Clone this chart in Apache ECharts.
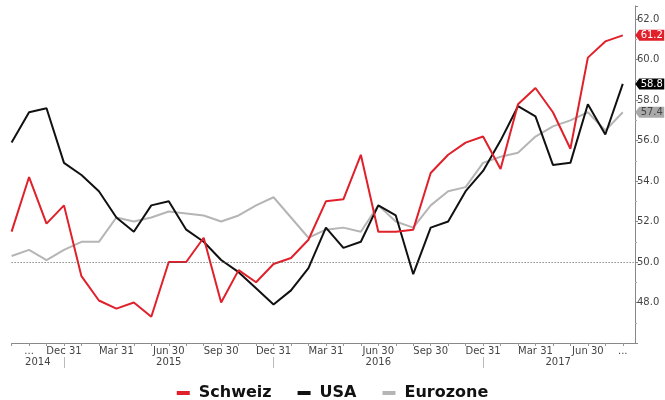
<!DOCTYPE html>
<html>
<head>
<meta charset="utf-8">
<script src="https://cdn.jsdelivr.net/npm/echarts@6/dist/echarts.min.js"></script>
<style>
  html, body { margin: 0; padding: 0; background: #fff; }
  #chart { width: 665px; height: 400px; }
</style>
</head>
<body>
<div id="chart"></div>
<script>
  // monthly PMI readings, Sep 2014 .. Aug 2017
  const months = [
    'Sep 2014', 'Oct 2014', 'Nov 2014', 'Dec 2014',
    'Jan 2015', 'Feb 2015', 'Mar 2015', 'Apr 2015', 'May 2015', 'Jun 2015',
    'Jul 2015', 'Aug 2015', 'Sep 2015', 'Oct 2015', 'Nov 2015', 'Dec 2015',
    'Jan 2016', 'Feb 2016', 'Mar 2016', 'Apr 2016', 'May 2016', 'Jun 2016',
    'Jul 2016', 'Aug 2016', 'Sep 2016', 'Oct 2016', 'Nov 2016', 'Dec 2016',
    'Jan 2017', 'Feb 2017', 'Mar 2017', 'Apr 2017', 'May 2017', 'Jun 2017',
    'Jul 2017', 'Aug 2017'
  ];
  const schweiz = [
    51.5, 54.2, 51.9, 52.8, 49.3, 48.1, 47.7, 48.0, 47.3, 50.0, 50.0, 51.2,
    48.0, 49.6, 49.0, 49.9, 50.2, 51.1, 53.0, 53.1, 55.3, 51.5, 51.5, 51.6,
    54.4, 55.3, 55.9, 56.2, 54.6, 57.8, 58.6, 57.4, 55.6, 60.1, 60.9, 61.2
  ];
  const usa = [
    55.9, 57.4, 57.6, 54.9, 54.3, 53.5, 52.2, 51.5, 52.8, 53.0, 51.6, 51.0,
    50.1, 49.5, 48.7, 47.9, 48.6, 49.7, 51.7, 50.7, 51.0, 52.8, 52.3, 49.4,
    51.7, 52.0, 53.5, 54.5, 56.0, 57.7, 57.2, 54.8, 54.9, 57.8, 56.3, 58.8
  ];
  const eurozone = [
    50.3, 50.6, 50.1, 50.6, 51.0, 51.0, 52.2, 52.0, 52.2, 52.5, 52.4, 52.3,
    52.0, 52.3, 52.8, 53.2, 52.2, 51.2, 51.6, 51.7, 51.5, 52.8, 52.0, 51.7,
    52.8, 53.5, 53.7, 54.9, 55.2, 55.4, 56.2, 56.7, 57.0, 57.4, 56.5, 57.4
  ];

  // x axis labels (positions are month indexes)
  const tickLabelIdx = [1, 3, 6, 9, 12, 15, 18, 21, 24, 27, 30, 33, 35];
  const tickLabels = ['...', 'Dec 31', 'Mar 31', 'Jun 30', 'Sep 30', 'Dec 31', 'Mar 31',
    'Jun 30', 'Sep 30', 'Dec 31', 'Mar 31', 'Jun 30', '...'];
  const yearLabelPos = [1.5, 9, 21, 31.3];
  const yearLabels = ['2014', '2015', '2016', '2017'];
  const yearBreaks = [3, 15, 27];

  const colors = { schweiz: '#e0202a', usa: '#111111', eurozone: '#b5b5b5' };
  const fontFamily = '"DejaVu Sans", Verdana, sans-serif';

  const toPoints = (arr) => arr.map((v, i) => [i, v]);
  const monthTicks = months.map((m, i) => i);

  const tag = (arr, bg, fg) => ({
    silent: true,
    symbol: 'path://M0,5L4,0L29,0L29,10L4,10Z',
    symbolSize: [29, 11],
    symbolKeepAspect: false,
    symbolOffset: [27, 0],
    itemStyle: { color: bg },
    label: {
      show: true,
      position: 'inside',
      offset: [2, 0],
      color: fg,
      fontSize: 10,
      fontFamily: fontFamily,
      formatter: () => arr[arr.length - 1].toFixed(1),
    },
    data: [{ coord: [arr.length - 1, arr[arr.length - 1]] }],
  });

  const chart = echarts.init(document.getElementById('chart'));

  chart.setOption({
    animation: false,
    grid: { left: 11.6, right: 30, top: 6, bottom: 57 },
    legend: {
      data: ['Schweiz', 'USA', 'Eurozone'],
      left: 'center',
      top: 380,
      icon: 'rect',
      itemWidth: 13,
      itemHeight: 4,
      itemGap: 26,
      textStyle: {
        fontFamily: fontFamily,
        fontWeight: 'bold',
        fontSize: 16,
        color: '#111',
        padding: [0, 0, 0, 4],
      },
    },
    xAxis: [
      {
        type: 'value',
        min: 0,
        max: 35.7,
        interval: 1,
        splitLine: { show: false },
        axisLine: { show: true, onZero: false, lineStyle: { color: '#888', width: 1 } },
        axisTick: { show: true, length: 3, customValues: monthTicks, lineStyle: { color: '#999' } },
        axisLabel: {
          customValues: tickLabelIdx,
          margin: 3,
          color: '#444',
          fontSize: 10,
          fontFamily: fontFamily,
          formatter: (v) => tickLabels[tickLabelIdx.indexOf(v)] || '',
        },
      },
      {
        type: 'value',
        min: 0,
        max: 35.7,
        position: 'bottom',
        offset: 14,
        splitLine: { show: false },
        axisLine: { show: false, onZero: false },
        axisTick: { show: true, length: 11, customValues: yearBreaks, lineStyle: { color: '#bbb' } },
        axisLabel: {
          customValues: yearLabelPos,
          margin: 0,
          color: '#444',
          fontSize: 10,
          fontFamily: fontFamily,
          formatter: (v) => yearLabels[yearLabelPos.indexOf(v)] || '',
        },
      },
    ],
    yAxis: {
      type: 'value',
      position: 'right',
      min: 46,
      max: 62.65,
      interval: 2,
      splitLine: { show: false },
      axisLine: { show: true, onZero: false, lineStyle: { color: '#888', width: 1 } },
      axisTick: { show: true, length: 3, lineStyle: { color: '#888' } },
      minorTick: { show: true, splitNumber: 2, length: 2, lineStyle: { color: '#aaa' } },
      axisLabel: {
        margin: 2,
        color: '#444',
        fontSize: 10,
        fontFamily: fontFamily,
        showMinLabel: false,
        showMaxLabel: false,
        formatter: (v) => v.toFixed(1),
      },
    },
    series: [
      {
        name: 'Eurozone',
        type: 'line',
        data: toPoints(eurozone),
        symbol: 'none',
        z: 2,
        lineStyle: { color: colors.eurozone, width: 2 },
        itemStyle: { color: colors.eurozone },
        markLine: {
          silent: true,
          symbol: 'none',
          label: { show: false },
          lineStyle: { color: '#555', type: [1, 2], width: 1 },
          data: [{ yAxis: 50 }],
        },
        markPoint: tag(eurozone, '#a9a9a9', '#444'),
      },
      {
        name: 'USA',
        type: 'line',
        data: toPoints(usa),
        symbol: 'none',
        z: 3,
        lineStyle: { color: colors.usa, width: 2 },
        itemStyle: { color: colors.usa },
        markPoint: tag(usa, '#000', '#fff'),
      },
      {
        name: 'Schweiz',
        type: 'line',
        data: toPoints(schweiz),
        symbol: 'none',
        z: 4,
        lineStyle: { color: colors.schweiz, width: 2 },
        itemStyle: { color: colors.schweiz },
        markPoint: tag(schweiz, colors.schweiz, '#fff'),
      },
    ],
  });
</script>
</body>
</html>
